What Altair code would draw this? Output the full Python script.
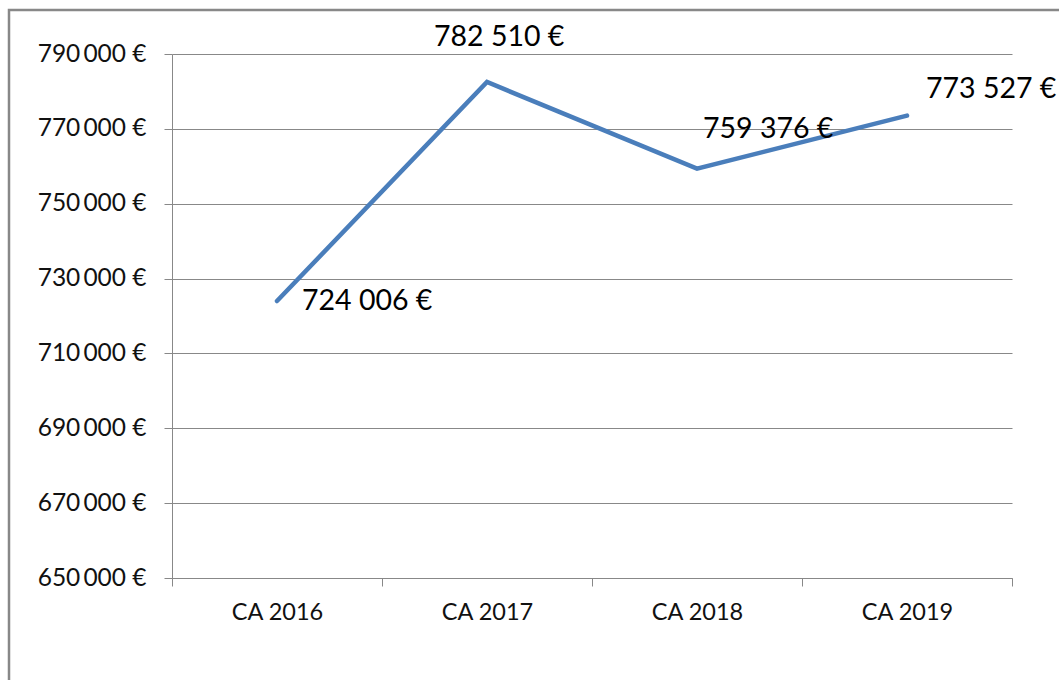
import altair as alt
import pandas as pd

categories = ["CA 2016", "CA 2017", "CA 2018", "CA 2019"]
values = [724006, 782510, 759376, 773527]
y_ticks = [650000, 670000, 690000, 710000, 730000, 750000, 770000, 790000]

df = pd.DataFrame({"cat": categories, "value": values})

W, H = 840, 524
FONT = "Lato"
GRAY = "#888888"
LINE = "#4a7ebb"

x = alt.X(
    "cat:N", sort=categories,
    scale=alt.Scale(type="band", paddingInner=0, paddingOuter=0),
    axis=alt.Axis(title=None, tickBand="extent", grid=False, domainColor=GRAY,
                  tickColor=GRAY, tickSize=8, labelFont=FONT, labelFontSize=23.5,
                  labelColor="#111111", labelPadding=14, labelAngle=0),
)
y = alt.Y(
    "value:Q",
    scale=alt.Scale(domain=[650000, 790000], nice=False, zero=False),
    axis=alt.Axis(title=None, values=y_ticks, grid=True, gridColor=GRAY,
                  domainColor=GRAY, tickColor=GRAY, tickSize=8, labelPadding=18,
                  labelFont=FONT, labelFontSize=24.5, labelColor="#111111",
                  labelExpr="replace(format(datum.value, ',d'), ',', '\u2009') + ' €'"),
)

base = alt.Chart(df)

border = alt.Chart(pd.DataFrame({"a": [0]})).mark_rect(
    fill="white", fillOpacity=0, stroke=GRAY, strokeWidth=2.5
).encode(x=alt.value(-163), x2=alt.value(900), y=alt.value(-44), y2=alt.value(640))

line = base.mark_line(color=LINE, strokeWidth=4.5, strokeCap="round").encode(x=x, y=y)

offsets = {"CA 2016": (25, 0), "CA 2017": (-53, -45), "CA 2018": (6, -40), "CA 2019": (19, -27)}
texts = []
for cat in categories:
    dx, dy = offsets[cat]
    t = base.transform_filter(alt.datum.cat == cat).transform_calculate(
        label="replace(format(datum.value, ',d'), ',', ' ') + ' €'"
    ).mark_text(align="left", baseline="middle", dx=dx, dy=dy, font=FONT,
                fontSize=28.5, color="#000000").encode(x=x, y=y, text="label:N")
    texts.append(t)

chart = alt.layer(border, line, *texts).properties(
    width=W, height=H,
    autosize=alt.AutoSizeParams(type="none"),
    padding={"left": 172, "top": 54, "right": 47, "bottom": 102},
    background="white",
).configure_view(strokeWidth=0)

chart.save("out.html", embed_options={"renderer": "svg", "actions": False})
